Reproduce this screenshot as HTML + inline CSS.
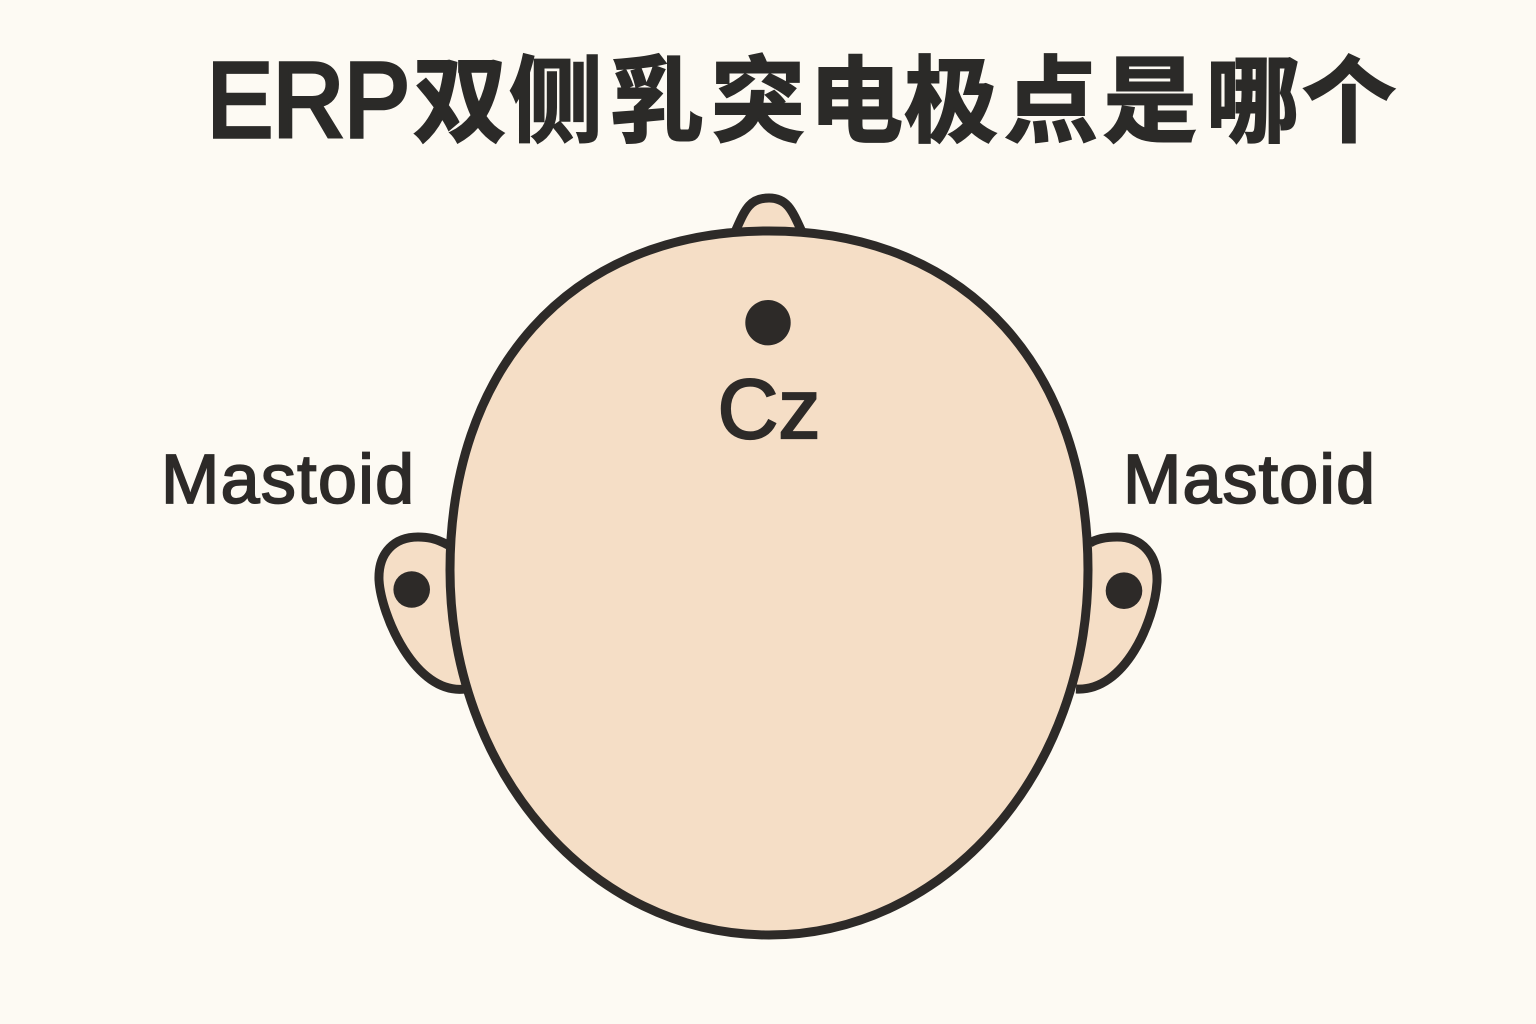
<!DOCTYPE html>
<html>
<head>
<meta charset="utf-8">
<style>
html,body{margin:0;padding:0;background:#fdfaf3;}
svg{display:block;}
</style>
</head>
<body>
<svg width="1536" height="1024" viewBox="0 0 1536 1024" xmlns="http://www.w3.org/2000/svg">
<rect width="1536" height="1024" fill="#fdfaf3"/>
<!-- nose -->
<path d="M735 232 C745 210 749 198 769 198 C787 198 792 210 802 232 Z" fill="#f5dec6" stroke="#2d2a28" stroke-width="9" stroke-linejoin="round"/>
<!-- left ear -->
<path d="M448 545 C435 538 427 537 418 537 C395 537 378 552 379 580 C381 615 415 695 465 689" fill="#f5dec6" stroke="#2d2a28" stroke-width="9"/>
<!-- right ear -->
<path d="M1090 543 C1098 538 1108 537 1117 537 C1142 537 1158 555 1157 582 C1155 620 1125 692 1076 689" fill="#f5dec6" stroke="#2d2a28" stroke-width="9"/>
<!-- head -->
<path d="M769 231 C973 231 1088 375 1088 570 C1088 770 948 935 769 935 C590 935 450 770 450 570 C450 375 565 231 769 231 Z" fill="#f5dec6" stroke="#2d2a28" stroke-width="9"/>
<circle cx="768" cy="322.7" r="22.7" fill="#2d2a28"/>
<circle cx="411.7" cy="589.5" r="18.3" fill="#2d2a28"/>
<circle cx="1124" cy="590.7" r="18.3" fill="#2d2a28"/>
<text x="769" y="438" text-anchor="middle" font-family="'Liberation Sans',sans-serif" font-size="84" fill="#2d2a28" stroke="#2d2a28" stroke-width="2.2">Cz</text>
<text x="161" y="503" font-family="'Liberation Sans',sans-serif" font-size="70" fill="#2d2a28" stroke="#2d2a28" stroke-width="1.8" textLength="253" lengthAdjust="spacing">Mastoid</text>
<text x="1123" y="503" font-family="'Liberation Sans',sans-serif" font-size="70" fill="#2d2a28" stroke="#2d2a28" stroke-width="1.8" textLength="252" lengthAdjust="spacing">Mastoid</text>
<text x="207" y="136.5" font-family="'Liberation Sans',sans-serif" font-size="106" fill="#2b2a28" stroke="#2b2a28" stroke-width="4.5" textLength="203" lengthAdjust="spacingAndGlyphs">ERP</text>
<text x="413 509 610 711 809 904 1004 1103 1206 1302" y="134" font-family="'Noto Sans CJK SC',sans-serif" font-weight="700" font-size="94" fill="#2b2a28" stroke="#2b2a28" stroke-width="2">双侧乳突电极点是哪个</text>
</svg>
</body>
</html>
